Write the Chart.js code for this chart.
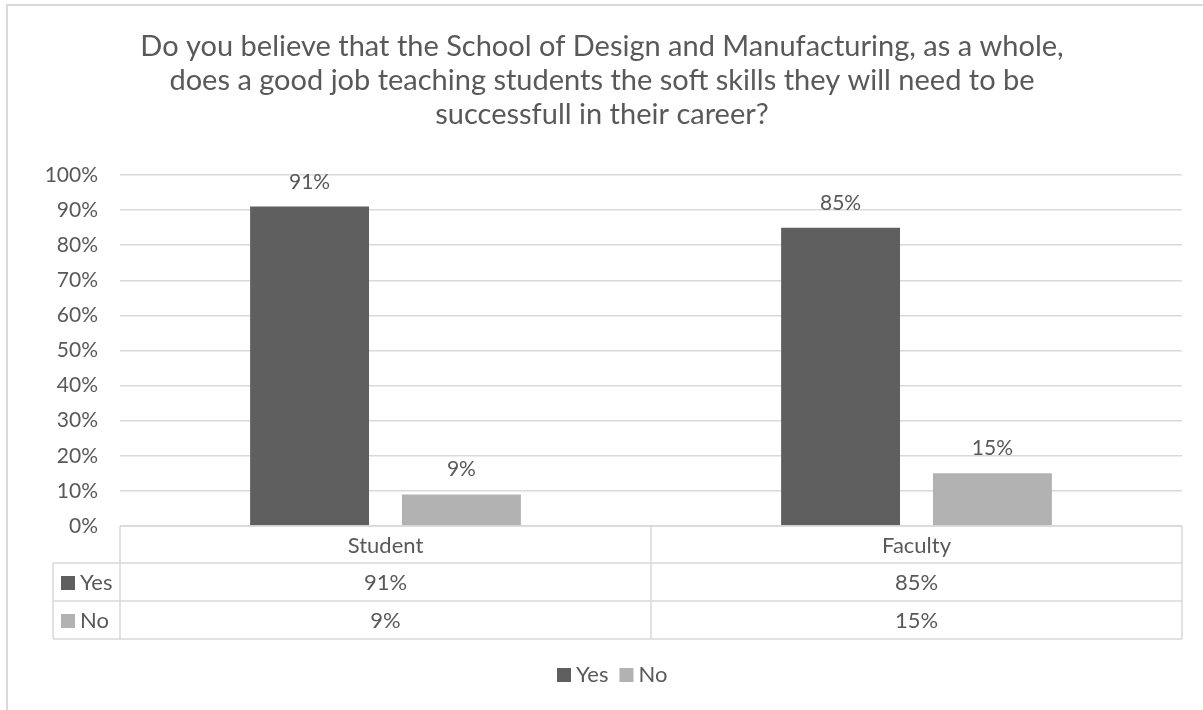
<!DOCTYPE html>
<html>
<head>
<meta charset="utf-8">
<title>Soft skills survey</title>
<script src="https://cdn.jsdelivr.net/npm/chart.js@4"></script>
<style>
  html, body { margin: 0; padding: 0; background: #fff; }
  #graph { display: block; }
</style>
</head>
<body>
<canvas id="graph" width="1203" height="710"></canvas>
<script>
const categories = ['Student', 'Faculty']
const seriesNames = ['Yes', 'No']
const yesValues = [91, 85]
const noValues = [9, 15]
const yMin = 0
const yMax = 100
const yStep = 10
const titleLines = [
    'Do you believe that the School of Design and Manufacturing, as a whole,',
    'does a good job teaching students the soft skills they will need to be',
    'successfull in their career?'
]

const FONT = 'Lato, "Liberation Sans", sans-serif'
const TEXT = '#595959'
const LINE = '#d9d9d9'
const COLORS = ['#5f5f5f', '#b2b2b2']

// light frame around the whole chart, plus the centred title
const framePlugin = {
    id: 'frame',
    beforeDraw(chart) {
        const ctx = chart.ctx
        ctx.save()
        ctx.strokeStyle = LINE
        ctx.lineWidth = 2
        ctx.beginPath()
        ctx.moveTo(7, chart.height + 5)
        ctx.lineTo(7, 5)
        ctx.lineTo(chart.width + 5, 5)
        ctx.stroke()

        ctx.font = '29px ' + FONT
        ctx.fillStyle = TEXT
        ctx.textAlign = 'center'
        ctx.textBaseline = 'middle'
        titleLines.forEach((line, i) => {
            ctx.fillText(line, 602, 47 + i * 34)
        })
        ctx.restore()
    }
}

// value labels above each bar
const barLabels = {
    id: 'barLabels',
    afterDatasetsDraw(chart) {
        const ctx = chart.ctx
        ctx.save()
        ctx.font = '21px ' + FONT
        ctx.fillStyle = TEXT
        ctx.textAlign = 'center'
        ctx.textBaseline = 'alphabetic'
        chart.data.datasets.forEach((ds, di) => {
            chart.getDatasetMeta(di).data.forEach((bar, i) => {
                ctx.fillText(ds.data[i] + '%', bar.x, bar.y - 18)
            })
        })
        ctx.restore()
    }
}

// data table under the plot: category header, then one row per series,
// followed by the series key line at the bottom
const dataTable = {
    id: 'dataTable',
    afterDraw(chart) {
        const ctx = chart.ctx
        const area = chart.chartArea
        const xs = chart.scales.x
        const top = area.bottom
        const rows = [37, 38, 38]
        const keyLeft = area.left - 67
        const half = (area.right - area.left) / categories.length / 2
        const bottom = top + rows[0] + rows[1] + rows[2]

        ctx.save()
        ctx.strokeStyle = LINE
        ctx.lineWidth = 1.5
        ctx.beginPath()
        ctx.moveTo(area.left, top)
        ctx.lineTo(area.right, top)
        let y = top
        for (let r = 0; r < rows.length; r++) {
            y += rows[r]
            ctx.moveTo(keyLeft, y)
            ctx.lineTo(area.right, y)
        }
        ctx.moveTo(area.left, top)
        ctx.lineTo(area.left, bottom)
        categories.forEach((c, i) => {
            const right = xs.getPixelForValue(i) + half
            ctx.moveTo(right, top)
            ctx.lineTo(right, bottom)
        })
        ctx.moveTo(keyLeft, top + rows[0])
        ctx.lineTo(keyLeft, bottom)
        ctx.stroke()

        ctx.font = '22px ' + FONT
        ctx.fillStyle = TEXT
        ctx.textBaseline = 'middle'
        ctx.textAlign = 'center'
        categories.forEach((c, i) => {
            ctx.fillText(c, xs.getPixelForValue(i), top + rows[0] / 2 + 1)
        })

        let rowTop = top + rows[0]
        chart.data.datasets.forEach((ds, di) => {
            const cy = rowTop + rows[di + 1] / 2 + 1
            ctx.fillStyle = ds.backgroundColor
            ctx.fillRect(keyLeft + 8, cy - 7, 14, 14)
            ctx.fillStyle = TEXT
            ctx.textAlign = 'left'
            ctx.fillText(ds.label, keyLeft + 27, cy)
            ctx.textAlign = 'center'
            ds.data.forEach((v, i) => {
                ctx.fillText(v + '%', xs.getPixelForValue(i), cy)
            })
            rowTop += rows[di + 1]
        })

        // legend
        let lx = 557
        const ly = 675
        ctx.textAlign = 'left'
        chart.data.datasets.forEach(ds => {
            ctx.fillStyle = ds.backgroundColor
            ctx.fillRect(lx, ly - 7, 14, 14)
            ctx.fillStyle = TEXT
            ctx.fillText(ds.label, lx + 19, ly)
            lx += 19 + ctx.measureText(ds.label).width + 11
        })
        ctx.restore()
    }
}

document.addEventListener('DOMContentLoaded', function() {
    const context = document.querySelector('#graph').getContext('2d')
    new Chart(context, {
        type: 'bar',
        data: {
            labels: categories,
            datasets: [
                { label: seriesNames[0], data: yesValues, backgroundColor: COLORS[0] },
                { label: seriesNames[1], data: noValues, backgroundColor: COLORS[1] }
            ]
        },
        options: {
            responsive: false,
            animation: false,
            devicePixelRatio: 1,
            categoryPercentage: 0.572,
            barPercentage: 0.783,
            layout: { padding: { left: 0, right: 21, top: 175, bottom: 71 } },
            plugins: {
                title: { display: false },
                legend: { display: false },
                tooltip: { enabled: false }
            },
            scales: {
                x: {
                    grid: { display: false },
                    border: { display: false },
                    ticks: { display: false },
                    afterFit(scale) { scale.height = 113 }
                },
                y: {
                    min: yMin,
                    max: yMax,
                    border: { display: false },
                    grid: { color: LINE, lineWidth: 1.5, drawTicks: false },
                    ticks: {
                        stepSize: yStep,
                        padding: 22,
                        color: TEXT,
                        font: { family: FONT, size: 21 },
                        callback: v => v + '%'
                    },
                    afterFit(scale) { scale.width = 120 }
                }
            }
        },
        plugins: [framePlugin, barLabels, dataTable]
    })
})
</script>
</body>
</html>
